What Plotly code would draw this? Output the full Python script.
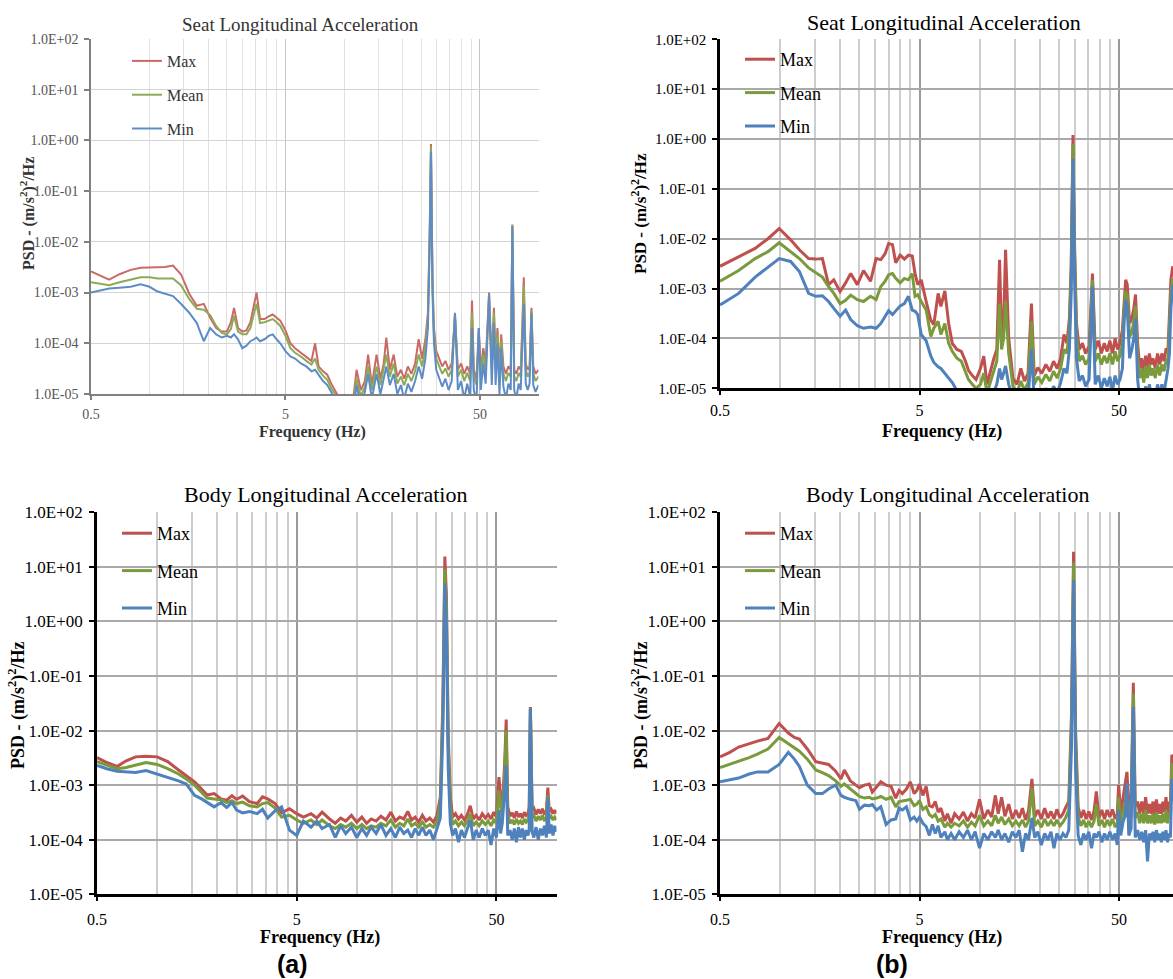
import math
import plotly.graph_objects as go

W, H = 1173, 979

# ---------------- data: Seat (a) ----------------
SEAT_A_F = [
    0.5, 0.55, 0.62, 0.7, 0.8, 0.9, 1.0, 1.1, 1.2, 1.32,
    1.45, 1.6, 1.75, 1.9, 2.05, 2.2, 2.35, 2.5, 2.62, 2.72,
    2.85, 3.0, 3.15, 3.3, 3.45, 3.55, 3.7, 3.9, 4.1, 4.3,
    4.5, 4.7, 5.0, 5.3, 5.6, 6.0, 6.4, 6.8, 7.1, 7.4,
    7.8, 8.2, 8.6, 9.0, 9.5, 10.0, 10.6, 11.2, 11.6, 12.2,
    12.8, 13.3, 13.9, 14.7, 15.4, 16.0, 16.5, 17.2, 18.0, 18.8,
    19.6, 20.4, 21.3, 22.2, 23.2, 24.2, 25.2, 26.2, 27.0, 27.6,
    28.0, 28.5, 29.0, 29.8, 30.8, 32.0, 33.2, 34.5, 35.8, 37.2,
    38.5, 40.0, 41.5, 43.0, 44.5, 45.5, 46.5, 48.0, 49.3, 50.5,
    52.0, 53.5, 55.7, 57.5, 59.0, 60.2, 61.5, 63.0, 64.3, 66.0,
    68.0, 70.0, 72.0, 73.4, 75.0, 77.0, 79.0, 81.0, 82.5, 84.0,
    86.0, 88.0, 90.0, 92.0, 94.0, 96.5, 100.0]
SEAT_A_MAX = [
    2.6e-3, 2.2e-3, 1.8e-3, 2.3e-3, 2.8e-3, 3.1e-3, 3.1e-3, 3.2e-3, 3.2e-3, 3.4e-3,
    2.3e-3, 9.5e-4, 5.5e-4, 6.0e-4, 3.2e-4, 2.0e-4, 1.7e-4, 1.7e-4, 2.6e-4, 5.0e-4,
    2.0e-4, 1.7e-4, 1.8e-4, 2.6e-4, 6.0e-4, 1.0e-3, 3.0e-4, 3.0e-4, 3.4e-4, 3.7e-4,
    3.2e-4, 2.8e-4, 1.8e-4, 1.0e-4, 8.0e-5, 6.5e-5, 5.5e-5, 4.5e-5, 1.0e-4, 3.5e-5,
    2.8e-5, 2.4e-5, 1.6e-5, 1.2e-5, 8e-6, 5e-6, 5e-6, 9e-6, 3.0e-5, 1.2e-5,
    1.8e-5, 6.0e-5, 1.5e-5, 6.0e-5, 2.0e-5, 4.0e-5, 1.3e-4, 3.0e-5, 6.0e-5, 2.2e-5,
    3.0e-5, 2.0e-5, 3.5e-5, 2.5e-5, 4.0e-5, 1.2e-4, 5.0e-5, 1.2e-4, 4.0e-4, 2.0e-2,
    0.85, 2.0e-3, 2.0e-4, 7.0e-5, 5.0e-5, 3.5e-5, 4.5e-5, 3.0e-5, 4.0e-5, 3.5e-4,
    3.0e-5, 4.0e-5, 2.5e-5, 3.5e-5, 2.5e-5, 7.0e-4, 3.0e-5, 2.0e-5, 2.0e-4, 3.0e-5,
    8.0e-5, 4.0e-5, 1.0e-3, 4.0e-5, 5.0e-4, 4.0e-5, 2.0e-4, 3.0e-5, 1.5e-4, 3.5e-5,
    2.5e-5, 3.5e-5, 3.0e-5, 2.2e-2, 3.0e-5, 2.5e-5, 3.5e-5, 3.0e-5, 2.0e-4, 2.0e-3,
    4.0e-5, 3.0e-5, 3.5e-5, 5.0e-4, 3.5e-5, 2.5e-5, 3.0e-5]
SEAT_A_MEAN = [
    1.6e-3, 1.5e-3, 1.4e-3, 1.6e-3, 1.8e-3, 2.0e-3, 2.0e-3, 1.9e-3, 1.9e-3, 1.9e-3,
    1.4e-3, 7.5e-4, 4.8e-4, 4.6e-4, 3.6e-4, 2.2e-4, 1.6e-4, 1.5e-4, 1.9e-4, 3.5e-4,
    1.7e-4, 1.5e-4, 1.5e-4, 2.0e-4, 4.0e-4, 6.0e-4, 2.5e-4, 2.6e-4, 2.8e-4, 3.0e-4,
    2.6e-4, 2.2e-4, 1.4e-4, 8.0e-5, 6.5e-5, 5.5e-5, 4.5e-5, 3.8e-5, 5.0e-5, 3.0e-5,
    2.3e-5, 1.9e-5, 1.3e-5, 1.0e-5, 6e-6, 4e-6, 4e-6, 7e-6, 2.0e-5, 9e-6,
    1.4e-5, 3.5e-5, 1.2e-5, 3.5e-5, 1.5e-5, 3.0e-5, 6.0e-5, 2.2e-5, 4.0e-5, 1.6e-5,
    2.2e-5, 1.5e-5, 2.5e-5, 1.8e-5, 2.8e-5, 6.0e-5, 3.5e-5, 8.0e-5, 3.0e-4, 1.5e-2,
    0.75, 1.5e-3, 1.5e-4, 5.0e-5, 3.5e-5, 2.5e-5, 3.2e-5, 2.2e-5, 3.0e-5, 3.8e-4,
    2.2e-5, 3.0e-5, 1.8e-5, 2.6e-5, 1.8e-5, 4.0e-4, 2.2e-5, 1.5e-5, 1.5e-4, 2.2e-5,
    6.0e-5, 3.0e-5, 8.0e-4, 3.0e-5, 4.0e-4, 3.0e-5, 1.5e-4, 2.2e-5, 1.1e-4, 2.5e-5,
    1.8e-5, 2.6e-5, 2.2e-5, 2.1e-2, 2.2e-5, 1.8e-5, 2.6e-5, 2.2e-5, 1.5e-4, 1.4e-3,
    3.0e-5, 2.2e-5, 2.6e-5, 4.5e-4, 2.6e-5, 1.8e-5, 2.2e-5]
SEAT_A_MIN = [
    1.0e-3, 1.1e-3, 1.2e-3, 1.25e-3, 1.3e-3, 1.45e-3, 1.3e-3, 1.05e-3, 9.5e-4, 8.5e-4,
    6.0e-4, 4.0e-4, 2.5e-4, 1.1e-4, 2.0e-4, 1.5e-4, 1.3e-4, 1.4e-4, 1.3e-4, 1.5e-4,
    1.2e-4, 8.0e-5, 9.0e-5, 1.1e-4, 1.2e-4, 1.3e-4, 1.1e-4, 1.2e-4, 1.4e-4, 1.5e-4,
    1.2e-4, 1.0e-4, 7.0e-5, 5.5e-5, 5.0e-5, 4.0e-5, 3.5e-5, 2.8e-5, 3.0e-5, 2.4e-5,
    1.8e-5, 1.5e-5, 1.1e-5, 8e-6, 4e-6, 3e-6, 3e-6, 5e-6, 1.5e-5, 6e-6,
    1.1e-5, 2.5e-5, 8e-6, 2.5e-5, 1.0e-5, 2.0e-5, 3.5e-5, 1.5e-5, 2.5e-5, 1.0e-5,
    1.5e-5, 8e-6, 1.6e-5, 1.1e-5, 1.8e-5, 3.5e-5, 2.0e-5, 5.0e-5, 2.0e-4, 1.0e-2,
    0.6, 1.0e-3, 1.0e-4, 3.0e-5, 2.0e-5, 1.4e-5, 2.0e-5, 1.2e-5, 1.8e-5, 4.0e-4,
    1.2e-5, 1.8e-5, 8e-6, 1.6e-5, 9e-6, 2.0e-4, 1.2e-5, 7e-6, 2.0e-4, 1.2e-5,
    4.0e-5, 1.6e-5, 9.0e-4, 1.5e-5, 2.5e-4, 1.5e-5, 1.0e-4, 1.0e-5, 8.0e-5, 1.4e-5,
    8e-6, 1.6e-5, 1.2e-5, 2.0e-2, 1.2e-5, 8e-6, 1.6e-5, 1.2e-5, 8.0e-5, 6.0e-4,
    1.6e-5, 1.2e-5, 1.6e-5, 4.0e-4, 1.5e-5, 1.1e-5, 1.5e-5]

# ---------------- data: Seat (b) ----------------
SEAT_B_F = [
    0.5, 0.62, 0.75, 0.87, 0.99, 1.13, 1.25, 1.39, 1.51, 1.63,
    1.75, 1.86, 2.0, 2.13, 2.26, 2.44, 2.62, 2.84, 3.03, 3.2,
    3.36, 3.5, 3.66, 3.8, 4.0, 4.2, 4.4, 4.6, 4.75, 4.9,
    5.1, 5.4, 5.7, 5.9, 6.2, 6.4, 6.7, 7.0, 7.3, 7.7,
    8.1, 8.5, 8.8, 9.2, 9.6, 10.1, 10.5, 10.9, 11.4, 11.8,
    12.2, 12.6, 12.9, 13.2, 13.5, 14.0, 14.7, 15.4, 16.1, 16.8,
    17.5, 18.2, 18.8, 19.6, 20.5, 21.5, 22.5, 23.5, 24.5, 25.5,
    26.5, 27.4, 28.2, 28.8, 29.4, 29.9, 30.6, 31.6, 32.8, 34.0,
    35.4, 36.8, 38.0, 39.4, 40.8, 42.2, 43.6, 45.0, 46.4, 47.8,
    49.2, 50.6, 52.0, 53.0, 54.0, 55.0, 56.5, 58.0, 59.3, 60.5,
    62.0, 63.5, 65.0, 66.5, 68.0, 69.5, 71.0, 72.5, 74.0, 76.0,
    78.0, 80.0, 82.0, 84.0, 86.0, 88.0, 89.5, 91.0, 93.0]
SEAT_B_MAX = [
    2.8e-3, 4.4e-3, 6.4e-3, 1.0e-2, 1.6e-2, 9.5e-3, 6.0e-3, 4.0e-3, 3.9e-3, 4.0e-3,
    1.2e-3, 1.5e-3, 8.7e-4, 1.3e-3, 2.0e-3, 1.2e-3, 2.3e-3, 1.4e-3, 4.0e-3, 3.8e-3,
    5.0e-3, 8.0e-3, 7.6e-3, 3.3e-3, 4.7e-3, 3.9e-3, 4.7e-3, 4.5e-3, 2.0e-3, 1.2e-3,
    1.5e-3, 5.5e-4, 2.3e-4, 1.9e-4, 8.0e-4, 4.4e-4, 9.0e-4, 2.0e-4, 8.0e-5, 6.0e-5,
    5.5e-5, 3.5e-5, 2.3e-5, 1.8e-5, 1.5e-5, 2.5e-5, 4.4e-5, 1.2e-5, 2.5e-5, 4.0e-5,
    6.0e-5, 3.8e-3, 1.0e-4, 2.0e-4, 6.0e-3, 1.0e-4, 1.6e-5, 1.2e-5, 2.5e-5, 1.4e-5,
    2.0e-5, 5.0e-4, 1.8e-5, 2.6e-5, 2.0e-5, 3.0e-5, 2.2e-5, 3.5e-5, 2.5e-5, 4.0e-5,
    1.2e-4, 8.0e-5, 2.5e-4, 3.0e-3, 1.2, 1.0e-2, 2.0e-4, 6.0e-5, 8.0e-5, 5.0e-5,
    7.0e-5, 2.0e-3, 6.0e-5, 9.0e-5, 5.0e-5, 8.0e-5, 5.5e-5, 9.0e-5, 5.0e-5, 1.0e-4,
    6.0e-5, 8.0e-5, 1.5e-4, 6.0e-4, 1.5e-3, 1.2e-3, 2.0e-4, 2.5e-4, 4.0e-4, 7.6e-4,
    8.0e-5, 2.5e-5, 4.0e-5, 2.0e-5, 4.5e-5, 2.5e-5, 5.0e-5, 3.0e-5, 4.0e-5, 2.5e-5,
    5.0e-5, 3.0e-5, 5.0e-5, 3.5e-5, 6.0e-5, 6.0e-5, 3.0e-4, 1.5e-3, 2.8e-3]
SEAT_B_MEAN = [
    1.4e-3, 2.3e-3, 4.0e-3, 5.5e-3, 8.3e-3, 5.5e-3, 4.0e-3, 2.6e-3, 2.1e-3, 1.7e-3,
    1.1e-3, 8.0e-4, 5.0e-4, 5.8e-4, 7.4e-4, 6.0e-4, 5.5e-4, 7.0e-4, 6.0e-4, 1.1e-3,
    1.4e-3, 1.9e-3, 2.0e-3, 1.6e-3, 1.3e-3, 1.6e-3, 1.5e-3, 2.0e-3, 7.0e-4, 7.5e-4,
    5.5e-4, 3.7e-4, 1.1e-4, 1.6e-4, 2.2e-4, 1.2e-4, 2.0e-4, 8.0e-5, 5.5e-5, 4.0e-5,
    3.5e-5, 2.2e-5, 1.5e-5, 1.2e-5, 1.0e-5, 1.2e-5, 2.0e-5, 8e-6, 1.4e-5, 2.2e-5,
    3.5e-5, 5.0e-4, 6.0e-5, 1.0e-4, 5.5e-4, 5.0e-5, 1.1e-5, 8e-6, 1.4e-5, 9e-6,
    1.3e-5, 2.2e-4, 1.2e-5, 1.7e-5, 1.3e-5, 1.9e-5, 1.4e-5, 2.2e-5, 1.6e-5, 2.5e-5,
    6.0e-5, 5.0e-5, 1.5e-4, 2.0e-3, 0.8, 6.0e-3, 1.2e-4, 3.5e-5, 4.5e-5, 3.0e-5,
    4.0e-5, 1.5e-3, 3.5e-5, 5.0e-5, 3.0e-5, 4.5e-5, 3.2e-5, 5.0e-5, 3.0e-5, 5.5e-5,
    3.5e-5, 4.5e-5, 8.0e-5, 3.5e-4, 9.0e-4, 7.0e-4, 1.1e-4, 1.3e-4, 2.2e-4, 4.5e-4,
    4.0e-5, 1.6e-5, 2.5e-5, 1.3e-5, 2.8e-5, 1.6e-5, 3.0e-5, 1.8e-5, 2.5e-5, 1.6e-5,
    3.0e-5, 1.8e-5, 3.0e-5, 2.2e-5, 3.5e-5, 4.0e-5, 1.5e-4, 8.0e-4, 1.6e-3]
SEAT_B_MIN = [
    4.7e-4, 8.0e-4, 1.7e-3, 2.7e-3, 4.0e-3, 3.5e-3, 2.2e-3, 8.0e-4, 7.0e-4, 7.2e-4,
    5.5e-4, 4.0e-4, 2.8e-4, 3.7e-4, 2.4e-4, 1.8e-4, 1.6e-4, 1.7e-4, 1.6e-4, 2.0e-4,
    2.8e-4, 3.6e-4, 3.0e-4, 3.5e-4, 4.5e-4, 5.0e-4, 7.0e-4, 3.7e-4, 3.5e-4, 3.0e-4,
    1.2e-4, 9.0e-5, 4.4e-5, 3.3e-5, 2.7e-5, 2.5e-5, 2.0e-5, 1.6e-5, 1.3e-5, 9e-6,
    6e-6, 5e-6, 4e-6, 3e-6, 3e-6, 4e-6, 6e-6, 4e-6, 6e-6, 9e-6,
    1.2e-5, 2.5e-5, 1.5e-5, 2.0e-5, 2.8e-5, 1.2e-5, 6e-6, 4e-6, 7e-6, 5e-6,
    6e-6, 6.0e-5, 6e-6, 9e-6, 6e-6, 1.0e-5, 7e-6, 1.1e-5, 8e-6, 1.3e-5,
    2.5e-5, 2.0e-5, 6.0e-5, 8.0e-4, 0.4, 2.0e-3, 4.0e-5, 1.4e-5, 1.8e-5, 1.1e-5,
    1.5e-5, 1.1e-3, 1.2e-5, 1.8e-5, 1.0e-5, 1.6e-5, 1.1e-5, 1.7e-5, 9e-6, 1.8e-5,
    1.2e-5, 1.5e-5, 2.5e-5, 2.0e-4, 6.0e-4, 4.0e-4, 4.0e-5, 6.0e-5, 1.0e-4, 2.5e-4,
    1.5e-5, 6e-6, 1.0e-5, 5e-6, 1.1e-5, 6e-6, 1.2e-5, 7e-6, 1.0e-5, 6e-6,
    1.2e-5, 7e-6, 1.2e-5, 8e-6, 1.4e-5, 2.5e-5, 5.0e-5, 4.0e-4, 1.2e-3]

# ---------------- data: Body (a) ----------------
BODY_A_F = [
    0.5, 0.56, 0.63, 0.7, 0.78, 0.88, 1.0, 1.13, 1.28, 1.4,
    1.54, 1.67, 1.78, 1.93, 2.09, 2.23, 2.37, 2.5, 2.68, 2.9,
    3.17, 3.37, 3.58, 3.9, 4.2, 4.6, 5.0, 5.4, 5.9, 6.3,
    6.7, 7.3, 7.8, 8.3, 8.8, 9.4, 10.0, 10.6, 11.2, 11.8,
    12.5, 13.2, 14.0, 14.8, 15.6, 16.4, 17.2, 18.0, 18.8, 19.6,
    20.4, 21.3, 22.2, 23.2, 24.2, 25.2, 26.2, 27.0, 27.6, 28.1,
    28.7, 29.4, 30.2, 31.2, 32.3, 33.4, 34.6, 35.8, 37.0, 38.3,
    39.6, 41.0, 42.5, 44.0, 45.5, 47.0, 48.5, 50.0, 51.5, 52.5,
    53.5, 55.0, 56.0, 57.0, 58.5, 60.0, 61.5, 63.0, 64.5, 66.0,
    67.5, 69.0, 70.5, 72.0, 73.0, 74.0, 75.5, 77.0, 79.0, 81.0,
    83.0, 85.0, 87.0, 89.0, 90.5, 92.0, 94.0, 96.0, 98.0, 100.0]
BODY_A_MAX = [
    3.2e-3, 2.6e-3, 2.2e-3, 2.8e-3, 3.3e-3, 3.4e-3, 3.3e-3, 2.7e-3, 1.9e-3, 1.5e-3,
    1.15e-3, 8.5e-4, 6.6e-4, 7.0e-4, 5.6e-4, 5.3e-4, 6.4e-4, 5.5e-4, 6.3e-4, 5.0e-4,
    4.6e-4, 6.1e-4, 5.6e-4, 4.6e-4, 3.1e-4, 3.7e-4, 3.0e-4, 2.6e-4, 3.0e-4, 2.5e-4,
    3.2e-4, 2.4e-4, 2.0e-4, 2.5e-4, 2.2e-4, 2.8e-4, 2.1e-4, 2.6e-4, 2.0e-4, 2.4e-4,
    2.2e-4, 2.7e-4, 2.3e-4, 3.2e-4, 2.2e-4, 2.6e-4, 2.4e-4, 3.3e-4, 2.3e-4, 2.6e-4,
    2.1e-4, 2.8e-4, 2.2e-4, 2.5e-4, 2.1e-4, 2.8e-4, 6.0e-4, 4.0e-2, 15.5, 3.0,
    8.0e-3, 6.0e-4, 2.6e-4, 3.0e-4, 2.4e-4, 2.8e-4, 2.3e-4, 2.9e-4, 4.2e-4, 2.4e-4,
    2.8e-4, 2.3e-4, 3.0e-4, 2.5e-4, 2.9e-4, 2.4e-4, 3.2e-4, 2.6e-4, 1.4e-3, 6.0e-4,
    3.5e-4, 2.5e-3, 1.6e-2, 4.0e-4, 2.7e-4, 3.1e-4, 2.5e-4, 3.3e-4, 2.6e-4, 3.0e-4,
    2.5e-4, 3.2e-4, 2.8e-4, 3.0e-4, 4.0e-4, 2.7e-2, 3.5e-4, 3.8e-4, 2.9e-4, 3.6e-4,
    3.0e-4, 3.7e-4, 2.9e-4, 3.4e-4, 9.0e-4, 3.3e-4, 3.6e-4, 3.0e-4, 3.5e-4, 3.0e-4]
BODY_A_MEAN = [
    2.7e-3, 2.3e-3, 2.0e-3, 2.1e-3, 2.3e-3, 2.6e-3, 2.4e-3, 2.0e-3, 1.6e-3, 1.3e-3,
    1.0e-3, 7.5e-4, 5.8e-4, 5.6e-4, 5.4e-4, 4.8e-4, 5.2e-4, 4.6e-4, 4.9e-4, 4.2e-4,
    4.0e-4, 4.6e-4, 4.8e-4, 3.8e-4, 2.6e-4, 2.8e-4, 2.3e-4, 2.0e-4, 2.3e-4, 1.9e-4,
    2.3e-4, 1.8e-4, 1.6e-4, 1.9e-4, 1.7e-4, 2.0e-4, 1.6e-4, 1.9e-4, 1.6e-4, 1.8e-4,
    1.7e-4, 2.0e-4, 1.8e-4, 2.3e-4, 1.7e-4, 2.0e-4, 1.8e-4, 2.4e-4, 1.8e-4, 2.0e-4,
    1.7e-4, 2.1e-4, 1.7e-4, 1.9e-4, 1.7e-4, 2.1e-4, 4.5e-4, 2.5e-2, 9.0, 1.8,
    5.0e-3, 4.0e-4, 1.9e-4, 2.2e-4, 1.8e-4, 2.1e-4, 1.8e-4, 2.2e-4, 3.0e-4, 1.8e-4,
    2.1e-4, 1.8e-4, 2.2e-4, 1.9e-4, 2.2e-4, 1.8e-4, 2.3e-4, 2.0e-4, 8.0e-4, 4.0e-4,
    2.6e-4, 1.5e-3, 1.0e-2, 3.0e-4, 2.0e-4, 2.3e-4, 1.9e-4, 2.4e-4, 2.0e-4, 2.2e-4,
    1.9e-4, 2.4e-4, 2.1e-4, 2.3e-4, 3.0e-4, 2.6e-2, 2.6e-4, 2.8e-4, 2.2e-4, 2.7e-4,
    2.3e-4, 2.8e-4, 2.2e-4, 2.6e-4, 6.5e-4, 2.5e-4, 2.7e-4, 2.3e-4, 2.6e-4, 2.3e-4]
BODY_A_MIN = [
    2.3e-3, 2.0e-3, 1.8e-3, 1.75e-3, 1.7e-3, 1.85e-3, 1.6e-3, 1.4e-3, 1.2e-3, 1.05e-3,
    6.5e-4, 5.6e-4, 4.8e-4, 4.0e-4, 4.8e-4, 3.9e-4, 4.8e-4, 3.5e-4, 3.1e-4, 3.3e-4,
    3.0e-4, 3.6e-4, 2.5e-4, 3.4e-4, 4.0e-4, 1.5e-4, 1.2e-4, 2.2e-4, 1.7e-4, 2.2e-4,
    1.6e-4, 1.9e-4, 1.1e-4, 1.8e-4, 1.3e-4, 1.7e-4, 1.1e-4, 1.6e-4, 1.2e-4, 1.7e-4,
    1.3e-4, 1.9e-4, 1.2e-4, 1.6e-4, 1.1e-4, 1.7e-4, 1.3e-4, 1.5e-4, 1.1e-4, 1.6e-4,
    1.2e-4, 1.7e-4, 1.2e-4, 1.5e-4, 1.0e-4, 1.6e-4, 2.5e-4, 1.2e-2, 5.0, 0.8,
    2.0e-3, 2.0e-4, 1.2e-4, 1.6e-4, 0.9e-4, 1.5e-4, 1.1e-4, 1.6e-4, 2.3e-4, 1.0e-4,
    1.5e-4, 1.1e-4, 1.6e-4, 1.2e-4, 1.5e-4, 0.8e-4, 1.6e-4, 1.1e-4, 3.5e-4, 1.3e-4,
    2.0e-4, 8.0e-4, 2.3e-3, 1.2e-4, 1.5e-4, 1.0e-4, 1.6e-4, 0.9e-4, 1.7e-4, 1.1e-4,
    1.6e-4, 1.0e-4, 1.5e-4, 1.2e-4, 1.5e-4, 2.5e-2, 1.4e-4, 1.1e-4, 1.7e-4, 1.0e-4,
    1.6e-4, 1.2e-4, 1.8e-4, 1.1e-4, 6.0e-4, 1.3e-4, 1.9e-4, 1.2e-4, 1.8e-4, 1.4e-4]

# ---------------- data: Body (b) ----------------
BODY_B_F = [
    0.5, 0.56, 0.62, 0.7, 0.77, 0.87, 0.99, 1.1, 1.18, 1.25,
    1.37, 1.51, 1.63, 1.75, 1.9, 2.02, 2.1, 2.25, 2.4, 2.5,
    2.65, 2.8, 2.9, 3.05, 3.2, 3.4, 3.6, 3.8, 3.95, 4.1,
    4.3, 4.5, 4.7, 4.85, 5.0, 5.2, 5.4, 5.6, 5.8, 6.0,
    6.2, 6.4, 6.7, 6.9, 7.2, 7.5, 7.9, 8.3, 8.7, 9.1,
    9.5, 10.0, 10.5, 11.0, 11.5, 12.0, 12.4, 12.9, 13.4, 14.0,
    14.6, 15.2, 15.8, 16.4, 17.0, 17.6, 18.3, 18.9, 19.6, 20.4,
    21.2, 22.0, 22.8, 23.6, 24.4, 25.3, 26.2, 27.1, 28.0, 28.9,
    29.6, 30.3, 31.2, 32.2, 33.2, 34.2, 35.3, 36.4, 37.5, 38.5,
    39.7, 41.0, 42.3, 43.6, 45.0, 46.4, 47.8, 49.0, 49.8, 51.0,
    52.5, 53.8, 54.8, 56.0, 57.5, 59.0, 60.3, 62.0, 63.5, 65.0,
    66.5, 68.0, 69.5, 71.0, 72.5, 74.0, 75.5, 77.0, 78.5, 80.0,
    81.5, 83.0, 84.5, 86.0, 87.5, 89.0, 90.5, 92.0, 93.5]
BODY_B_MAX = [
    3.3e-3, 4.0e-3, 5.0e-3, 5.8e-3, 6.4e-3, 7.2e-3, 1.35e-2, 9.0e-3, 7.5e-3, 7.0e-3,
    4.6e-3, 2.7e-3, 2.5e-3, 2.4e-3, 1.8e-3, 1.3e-3, 1.9e-3, 1.2e-3, 1.0e-3, 9.0e-4,
    1.0e-3, 1.05e-3, 7.5e-4, 9.5e-4, 1.15e-3, 1.0e-3, 9.5e-4, 5.8e-4, 8.0e-4, 7.0e-4,
    8.5e-4, 1.15e-3, 7.0e-4, 8.0e-4, 1.05e-3, 6.5e-4, 9.5e-4, 4.2e-4, 4.0e-4, 5.0e-4,
    3.2e-4, 3.8e-4, 2.2e-4, 3.0e-4, 2.0e-4, 3.0e-4, 2.4e-4, 3.2e-4, 2.2e-4, 3.0e-4,
    2.5e-4, 5.5e-4, 2.4e-4, 3.5e-4, 2.6e-4, 6.5e-4, 3.0e-4, 6.0e-4, 2.7e-4, 4.5e-4,
    2.4e-4, 3.5e-4, 2.5e-4, 3.8e-4, 2.3e-4, 3.4e-4, 1.3e-3, 2.6e-4, 3.5e-4, 2.4e-4,
    3.8e-4, 2.5e-4, 3.3e-4, 2.4e-4, 3.6e-4, 2.5e-4, 3.0e-4, 4.0e-4, 5.0e-4, 2.0e-2,
    19.0, 1.0e-2, 4.0e-4, 2.5e-4, 3.5e-4, 2.4e-4, 3.3e-4, 2.3e-4, 3.4e-4, 7.7e-4,
    2.5e-4, 3.5e-4, 2.4e-4, 3.5e-4, 2.6e-4, 3.6e-4, 2.4e-4, 3.0e-4, 1.0e-3, 3.0e-4,
    6.0e-4, 1.2e-3, 1.75e-3, 4.0e-4, 5.0e-4, 7.5e-2, 4.0e-4, 5.0e-4, 3.0e-4, 5.0e-4,
    3.0e-4, 6.0e-4, 3.0e-4, 4.5e-4, 3.0e-4, 5.0e-4, 2.8e-4, 5.5e-4, 3.0e-4, 4.5e-4,
    3.0e-4, 5.0e-4, 3.2e-4, 6.0e-4, 3.0e-4, 5.0e-4, 4.0e-4, 3.6e-3, 3.0e-3]
BODY_B_MEAN = [
    2.1e-3, 2.4e-3, 2.7e-3, 3.2e-3, 3.7e-3, 4.6e-3, 7.5e-3, 5.8e-3, 5.0e-3, 4.2e-3,
    3.0e-3, 1.9e-3, 1.7e-3, 1.5e-3, 1.2e-3, 9.5e-4, 1.05e-3, 8.5e-4, 7.0e-4, 6.2e-4,
    5.8e-4, 6.0e-4, 5.6e-4, 5.8e-4, 6.2e-4, 5.5e-4, 6.0e-4, 4.0e-4, 5.0e-4, 5.2e-4,
    5.3e-4, 5.5e-4, 4.2e-4, 4.5e-4, 5.2e-4, 3.6e-4, 4.0e-4, 2.9e-4, 2.6e-4, 2.9e-4,
    2.2e-4, 2.4e-4, 1.7e-4, 2.0e-4, 1.7e-4, 2.0e-4, 1.8e-4, 2.2e-4, 1.7e-4, 2.1e-4,
    1.8e-4, 2.8e-4, 1.8e-4, 2.2e-4, 1.8e-4, 2.8e-4, 2.0e-4, 2.6e-4, 1.9e-4, 2.4e-4,
    1.8e-4, 2.2e-4, 1.8e-4, 2.3e-4, 1.7e-4, 2.2e-4, 9.0e-4, 1.8e-4, 2.2e-4, 1.7e-4,
    2.4e-4, 1.8e-4, 2.2e-4, 1.8e-4, 2.3e-4, 1.8e-4, 2.1e-4, 2.6e-4, 3.5e-4, 1.2e-2,
    12.0, 6.0e-3, 2.6e-4, 1.8e-4, 2.3e-4, 1.7e-4, 2.2e-4, 1.7e-4, 2.2e-4, 4.5e-4,
    1.8e-4, 2.3e-4, 1.7e-4, 2.3e-4, 1.8e-4, 2.4e-4, 1.7e-4, 2.0e-4, 6.0e-4, 2.0e-4,
    3.5e-4, 5.0e-4, 9.0e-4, 2.6e-4, 3.0e-4, 4.8e-2, 2.5e-4, 3.2e-4, 2.0e-4, 3.0e-4,
    2.0e-4, 3.5e-4, 2.0e-4, 2.8e-4, 2.0e-4, 3.0e-4, 1.9e-4, 3.2e-4, 2.0e-4, 2.8e-4,
    2.0e-4, 3.0e-4, 2.1e-4, 3.5e-4, 2.0e-4, 3.0e-4, 2.6e-4, 2.5e-3, 2.0e-3]
BODY_B_MIN = [
    1.15e-3, 1.25e-3, 1.35e-3, 1.6e-3, 1.75e-3, 1.75e-3, 2.4e-3, 4.0e-3, 3.0e-3, 2.2e-3,
    1.0e-3, 7.0e-4, 7.0e-4, 8.5e-4, 1.0e-3, 6.5e-4, 6.0e-4, 5.5e-4, 5.2e-4, 3.6e-4,
    4.3e-4, 4.2e-4, 4.4e-4, 3.5e-4, 4.0e-4, 1.9e-4, 2.3e-4, 2.4e-4, 3.8e-4, 3.5e-4,
    4.0e-4, 2.3e-4, 2.6e-4, 2.2e-4, 2.6e-4, 2.0e-4, 1.75e-4, 1.2e-4, 1.9e-4, 1.3e-4,
    1.8e-4, 1.1e-4, 1.4e-4, 1.0e-4, 1.3e-4, 1.0e-4, 1.4e-4, 1.1e-4, 1.5e-4, 1.0e-4,
    1.4e-4, 0.7e-4, 1.3e-4, 1.0e-4, 1.4e-4, 1.1e-4, 1.5e-4, 1.0e-4, 1.3e-4, 0.9e-4,
    1.4e-4, 1.1e-4, 1.5e-4, 0.6e-4, 1.3e-4, 1.0e-4, 2.5e-4, 1.1e-4, 1.4e-4, 0.8e-4,
    1.3e-4, 1.0e-4, 1.4e-4, 0.7e-4, 1.3e-4, 1.0e-4, 1.3e-4, 1.1e-4, 1.5e-4, 5.0e-3,
    5.7, 2.0e-3, 1.2e-4, 0.8e-4, 1.3e-4, 1.0e-4, 1.4e-4, 0.7e-4, 1.3e-4, 1.1e-4,
    1.4e-4, 0.9e-4, 1.3e-4, 1.0e-4, 1.4e-4, 1.0e-4, 1.3e-4, 0.8e-4, 3.5e-4, 1.2e-4,
    2.2e-4, 2.8e-4, 1.1e-3, 1.2e-4, 1.6e-4, 2.7e-2, 1.1e-4, 1.5e-4, 1.0e-4, 1.4e-4,
    0.9e-4, 1.5e-4, 0.4e-4, 1.3e-4, 1.0e-4, 1.4e-4, 0.9e-4, 1.5e-4, 1.0e-4, 1.3e-4,
    0.9e-4, 1.4e-4, 1.0e-4, 1.5e-4, 0.9e-4, 1.3e-4, 1.1e-4, 1.3e-3, 5.0e-4]

SERIES_NAMES = ["Max", "Mean", "Min"]
TITLES = ["Seat Longitudinal Acceleration", "Seat Longitudinal Acceleration",
          "Body Longitudinal Acceleration", "Body Longitudinal Acceleration"]
X_MAJOR = [0.5, 5, 50]
X_MAJOR_TEXT = ["0.5", "5", "50"]
X_MINOR = [1, 1.5, 2, 2.5, 3, 3.5, 4, 4.5, 10, 15, 20, 25, 30, 35, 40, 45, 100]
Y_TICKS = [1e-5, 1e-4, 1e-3, 1e-2, 1e-1, 1, 10, 100]
Y_TEXT = ["1.0E-05", "1.0E-04", "1.0E-03", "1.0E-02", "1.0E-01", "1.0E+00", "1.0E+01", "1.0E+02"]

DATA = [
    (SEAT_A_F, SEAT_A_MAX, SEAT_A_MEAN, SEAT_A_MIN),
    (SEAT_B_F, SEAT_B_MAX, SEAT_B_MEAN, SEAT_B_MIN),
    (BODY_A_F, BODY_A_MAX, BODY_A_MEAN, BODY_A_MIN),
    (BODY_B_F, BODY_B_MAX, BODY_B_MEAN, BODY_B_MIN),
]
for k, d in enumerate(DATA):
    lens = [len(a) for a in d]
    if len(set(lens)) != 1:
        raise ValueError(f"panel {k} length mismatch {lens}")

SERIF = "Liberation Serif"

# ---------------- styling / geometry (pixels) ----------------
PANELS = [
    dict(box=(91, 538.5, 39, 394), xmax=100.0, faded=True,
         leg=(127, 44), legfont=16, leggap=10, cover=(227, 144),
         title=(300, 24, 19), ytitle=(27, 214, 16), xtitle=(312, 432, 16),
         tickfont=14, ytickfont=14, xstand=2),
    dict(box=(720, 1173, 39.3, 388.3), xmax=0.5 * 10 ** (453 / 199.5), faded=False,
         leg=(740, 41), legfont=18, leggap=7, cover=(843, 141),
         title=(944, 23, 22), ytitle=(639, 214, 17), xtitle=(942, 431, 18),
         tickfont=16, ytickfont=15, xstand=2),
    dict(box=(97, 556.5, 512.3, 894.3), xmax=100.0, faded=False,
         leg=(117, 515), legfont=18, leggap=11, cover=(220, 624),
         title=(326, 494, 22), ytitle=(17, 705, 18), xtitle=(320, 937, 18),
         tickfont=16, ytickfont=17, xstand=5),
    dict(box=(720, 1173, 512.3, 894.3), xmax=0.5 * 10 ** (453 / 199.5), faded=False,
         leg=(740, 515), legfont=18, leggap=11, cover=(843, 624),
         title=(948, 494, 22), ytitle=(640, 705, 18), xtitle=(942, 937, 18),
         tickfont=16, ytickfont=17, xstand=5),
]

COLORS = ["#C0504D", "#7A9A3C", "#4F81BD"]
FADED_COLORS = ["#C96A67", "#8DAA55", "#5E8CC6"]


def fx(px):
    return px / W


def fy(py):
    return 1 - py / H


fig = go.Figure()
annotations = []
shapes = []
layout = dict(width=W, height=H,
              margin=dict(l=0, r=0, t=0, b=0, pad=0, autoexpand=False),
              paper_bgcolor="white", plot_bgcolor="white", showlegend=True,
              font=dict(family=SERIF, color="black"))

for i, (p, d) in enumerate(zip(PANELS, DATA)):
    n = "" if i == 0 else str(i + 1)
    xa, ya = "x" + n, "y" + n
    legname = "legend" + n
    x0, x1, y0, y1 = p["box"]
    faded = p["faded"]
    cols = FADED_COLORS if faded else COLORS
    lw = 2 if faded else 3
    F = d[0]
    for s in range(3):
        fig.add_trace(go.Scatter(
            x=F, y=d[s + 1], mode="lines", name=SERIES_NAMES[s],
            line=dict(color=cols[s], width=lw), xaxis=xa, yaxis=ya,
            legend=legname, legendgroup=f"{legname}_{s}", hoverinfo="skip"))

    axis_col = "#808080" if faded else "black"
    grid_y = "#d4d4d4" if faded else "#a9a9a9"
    grid_xmaj = "#c4c4c4" if faded else "#9a9a9a"
    grid_xmin = "#e0e0e0" if faded else "#cdcdcd"
    tick_col = "#555555" if faded else "black"
    gw = 1 if faded else 1.5
    xlo, xhi = math.log10(0.5), math.log10(p["xmax"])

    layout["xaxis" + n] = dict(
        domain=[fx(x0), fx(x1)], anchor=ya, type="log", range=[xlo, xhi],
        tickmode="array", tickvals=X_MAJOR, ticktext=X_MAJOR_TEXT,
        ticks="outside", ticklen=4, tickwidth=1.5, tickcolor=axis_col,
        ticklabelstandoff=p["xstand"], automargin=False,
        tickfont=dict(family=SERIF, size=p["tickfont"], color=tick_col),
        showline=True, linecolor=axis_col, linewidth=1.5 if faded else 2.5,
        showgrid=True, gridcolor=grid_xmaj, gridwidth=gw,
        minor=dict(tickmode="array", tickvals=X_MINOR, showgrid=True,
                   gridcolor=grid_xmin, gridwidth=gw, ticks=""),
        zeroline=False, fixedrange=True)
    layout["yaxis" + n] = dict(
        domain=[fy(y1), fy(y0)], anchor=xa, type="log", range=[-5, 2],
        tickmode="array", tickvals=Y_TICKS, ticktext=Y_TEXT,
        ticks="outside", ticklen=5, tickwidth=1.5, tickcolor=axis_col,
        ticklabelstandoff=3, automargin=False,
        tickfont=dict(family=SERIF, size=p["ytickfont"], color=tick_col),
        showline=True, linecolor=axis_col, linewidth=1.5 if faded else 2.5,
        showgrid=True, gridcolor=grid_y, gridwidth=gw,
        zeroline=False, fixedrange=True)

    lx, ly = p["leg"]
    layout[legname] = dict(
        x=fx(lx), y=fy(ly), xanchor="left", yanchor="top",
        bgcolor="rgba(0,0,0,0)", borderwidth=0,
        font=dict(family=SERIF, size=p["legfont"], color="#333333" if faded else "black"),
        tracegroupgap=p["leggap"], itemwidth=30, traceorder="grouped")

    # white area behind the legend that hides the grid (log-axis shape coords)
    cx, cy = p["cover"]
    fxr = (cx - x0) / (x1 - x0)
    fyr = (y1 - cy) / (y1 - y0)
    shapes.append(dict(
        type="rect", layer="between", xref=xa, yref=ya,
        x0=xlo + 0.004 * (xhi - xlo), x1=xlo + fxr * (xhi - xlo),
        y0=-5 + 7 * fyr, y1=-5 + 7 * 0.996,
        fillcolor="white", line=dict(width=0)))

    tx, ty, ts = p["title"]
    annotations.append(dict(
        text=TITLES[i], x=fx(tx), y=fy(ty), xref="paper", yref="paper",
        xanchor="center", yanchor="middle", showarrow=False,
        font=dict(family=SERIF, size=ts, color="#333333" if faded else "black")))
    yx, yy, ys = p["ytitle"]
    annotations.append(dict(
        text="<b>PSD - (m/s<sup>2</sup>)<sup>2</sup>/Hz</b>", x=fx(yx), y=fy(yy),
        xref="paper", yref="paper", xanchor="center", yanchor="middle",
        textangle=-90, showarrow=False,
        font=dict(family=SERIF, size=ys, color="#333333" if faded else "black")))
    xx, xy, xs = p["xtitle"]
    annotations.append(dict(
        text="<b>Frequency (Hz)</b>", x=fx(xx), y=fy(xy), xref="paper", yref="paper",
        xanchor="center", yanchor="middle", showarrow=False,
        font=dict(family=SERIF, size=xs, color="#333333" if faded else "black")))

for lab, (px, py) in [("(a)", (292, 964)), ("(b)", (892, 964))]:
    annotations.append(dict(
        text="<b>" + lab + "</b>", x=fx(px), y=fy(py), xref="paper", yref="paper",
        xanchor="center", yanchor="middle", showarrow=False,
        font=dict(family="Liberation Sans", size=25, color="black")))

layout["annotations"] = annotations
layout["shapes"] = shapes
fig.update_layout(**layout)
fig.write_html("out.html")
